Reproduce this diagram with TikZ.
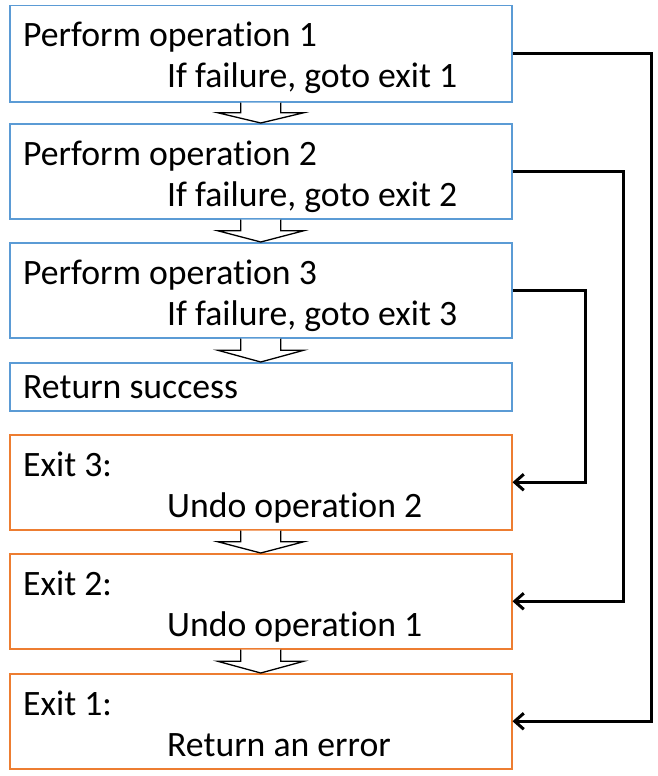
\documentclass[tikz,border=0pt]{standalone}
\usepackage{fontspec}
\setmainfont[Ligatures={NoCommon,NoContextual,NoRare},Contextuals=NoAlternate]{Carlito}
\usetikzlibrary{arrows.meta,calc}
\definecolor{boxblue}{RGB}{91,155,213}
\definecolor{boxorange}{RGB}{237,125,49}
\newcommand{\opword}{operat\kern0pt ion}
\tikzset{
  box/.style={draw, line width=1.5pt, fill=white, minimum width=502pt, anchor=north west, inner sep=0pt},
  bluebox/.style={box, draw=boxblue},
  orangebox/.style={box, draw=boxorange},
  txt/.style={anchor=base west, inner sep=0pt, font=\fontsize{35.7}{40}\selectfont},
  conn/.style={line width=3pt, -{Straight Barb[length=9pt,width=16pt,line width=3pt]}},
  blockarrow/.style={draw=black, line width=1.3pt, fill=white, line join=miter}
}
\newcommand{\blockarr}[2]{%
  \draw[blockarrow] let \p1=(#1.south), \p2=(#2.north), \n1={(\y1+\y2)/2} in
    (\x1-20pt,\y1) -- (\x1-20pt,\n1) -- (\x1-43pt,\n1) -- (\x1,\y2) -- (\x1+43pt,\n1) -- (\x1+20pt,\n1) -- (\x1+20pt,\y1);}
\begin{document}
\begin{tikzpicture}[x=1pt,y=-1pt]
\useasboundingbox (0,0) rectangle (658,776);
\node[bluebox, minimum height=96pt] (b1) at (9,5) {};
\node[bluebox, minimum height=95pt] (b2) at (9,123) {};
\node[bluebox, minimum height=95pt] (b3) at (9,242) {};
\node[bluebox, minimum height=48pt] (b4) at (9,362) {};
\node[orangebox, minimum height=95pt] (e3) at (9,434) {};
\node[orangebox, minimum height=95pt] (e2) at (9,553) {};
\node[orangebox, minimum height=95pt] (e1) at (9,673) {};

\node[txt] (t1a) at (23,47) {Perform \opword{} 1};
\node[txt] (t1b) at (167,88) {If failure, goto exit 1};
\node[txt] (t2a) at (23,165) {Perform \opword{} 2};
\node[txt] (t2b) at (167,206) {If failure, goto exit 2};
\node[txt] (t3a) at (23,284) {Perform \opword{} 3};
\node[txt] (t3b) at (167,325) {If failure, goto exit 3};
\node[txt] (t4a) at (23,398) {Return success};
\node[txt] (t5a) at (23,476) {Exit 3:};
\node[txt] (t5b) at (167,517) {Undo \opword{} 2};
\node[txt] (t6a) at (23,595) {Exit 2:};
\node[txt] (t6b) at (167,636) {Undo \opword{} 1};
\node[txt] (t7a) at (23,715) {Exit 1:};
\node[txt] (t7b) at (167,756) {Return an error};

\blockarr{b1}{b2}
\blockarr{b2}{b3}
\blockarr{b3}{b4}
\blockarr{e3}{e2}
\blockarr{e2}{e1}

\draw[conn] (b1.east) -- ++(139,0) |- (e1.east);
\draw[conn] (b2.east) -- ++(111,0) |- (e2.east);
\draw[conn] (b3.east) -- ++(73,0) |- (e3.east);
\end{tikzpicture}
\end{document}
